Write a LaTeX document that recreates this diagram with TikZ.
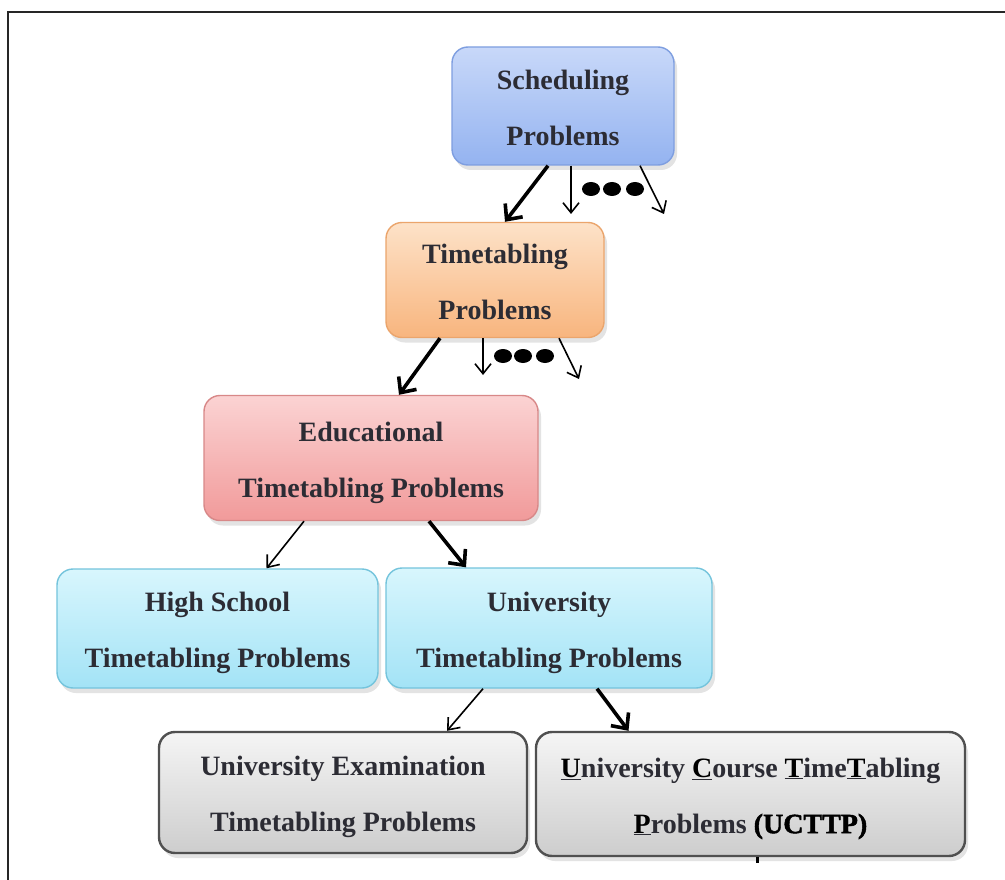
\documentclass[tikz,border=0pt]{standalone}
\usepackage{fontspec}
\setmainfont{Liberation Serif}
\newfontfamily\heavyfont[FakeBold=1.6]{Liberation Serif Bold}
\usetikzlibrary{arrows.meta,shadows,shapes.geometric}

\definecolor{blueTop}{HTML}{C8D8F9}
\definecolor{blueBot}{HTML}{94B3F0}
\definecolor{blueLine}{HTML}{7E9EE0}
\definecolor{orTop}{HTML}{FDE2C8}
\definecolor{orBot}{HTML}{F8B57E}
\definecolor{orLine}{HTML}{EBA56C}
\definecolor{redTop}{HTML}{FBD3D3}
\definecolor{redBot}{HTML}{F19A9A}
\definecolor{redLine}{HTML}{D88888}
\definecolor{cyTop}{HTML}{D8F6FD}
\definecolor{cyBot}{HTML}{A3E3F6}
\definecolor{cyLine}{HTML}{74C4DC}
\definecolor{gyTop}{HTML}{F5F5F5}
\definecolor{gyBot}{HTML}{CDCDCD}
\definecolor{gyLine}{HTML}{505050}
\definecolor{txt}{HTML}{2C2C34}

\newcommand{\ul}[1]{\underline{\textcolor{black}{#1}}}
% two centred lines, 56pt apart, set a little below the box centre
\newcommand{\twolines}[2]{\raisebox{-3pt}{\begin{tabular}{@{}c@{}}#1\\#2\end{tabular}}}

\tikzset{
  box/.style={rounded corners=16pt, inner sep=0pt,
    font=\fontsize{28}{56}\selectfont\bfseries, text=txt,
    drop shadow={opacity=0.22, shadow xshift=3pt, shadow yshift=-5pt}},
  bluebox/.style={box, draw=blueLine, line width=1.4pt, top color=blueTop, bottom color=blueBot},
  orbox/.style={box, draw=orLine, line width=1.4pt, top color=orTop, bottom color=orBot},
  redbox/.style={box, draw=redLine, line width=1.4pt, top color=redTop, bottom color=redBot},
  cybox/.style={box, draw=cyLine, line width=1.4pt, top color=cyTop, bottom color=cyBot},
  gybox/.style={box, draw=gyLine, line width=2.4pt, top color=gyTop, bottom color=gyBot},
  bold arrow/.style={line width=3.6pt, -{Straight Barb[length=12pt,width=22pt]}},
  thin arrow/.style={line width=1.6pt, -{Straight Barb[length=10pt,width=16pt]}},
  dot/.style={fill=black, ellipse, minimum width=18pt, minimum height=14pt, inner sep=0pt},
}

\begin{document}
\begin{tikzpicture}[x=1pt,y=-1pt]
\useasboundingbox (0,0) rectangle (1005,880);
\fill[white] (0,0) rectangle (1005,880);

% outer frame (top and left edges)
\draw[line width=2.6pt, black!85] (8,880) -- (8,12) -- (1005,12);

% boxes
\node[bluebox, minimum width=222pt, minimum height=118pt] (sched) at (563,106)
  {\twolines{Scheduling}{Problems}};
\node[orbox, minimum width=218pt, minimum height=115pt] (timet) at (495,280)
  {\twolines{Timetabling}{Problems}};
\node[redbox, minimum width=334pt, minimum height=125pt] (edu) at (371,458)
  {\twolines{Educational}{Timetabling Problems}};
\node[cybox, minimum width=321pt, minimum height=119pt] (high) at (217.5,628.5)
  {\twolines{High School}{Timetabling Problems}};
\node[cybox, minimum width=326pt, minimum height=120pt] (univ) at (549,628)
  {\twolines{University}{Timetabling Problems}};
\node[gybox, minimum width=368pt, minimum height=121pt] (exam) at (343,792.5)
  {\twolines{University Examination}{Timetabling Problems}};
\node[gybox, minimum width=429pt, minimum height=124pt] (ucttp) at (750.5,794)
  {\twolines{\ul{U}niversity \ul{C}ourse \ul{T}ime\ul{T}abling}{\ul{P}roblems {\heavyfont\textcolor{black}{(UCTTP)}}}};

% open-ended branches
\coordinate (sA) at (571,214);
\coordinate (sB) at (664,214);
\coordinate (tA) at (483,375);
\coordinate (tB) at (579,379);

% ellipsis dots
\node[dot] (sd1) at (591,189) {};
\node[dot] (sd2) at (612,189) {};
\node[dot] (sd3) at (635,189) {};
\node[dot] (td1) at (503,356) {};
\node[dot] (td2) at (523,356) {};
\node[dot] (td3) at (545,356) {};

% connectors
\draw[bold arrow] ([xshift=-15pt]sched.south) -- ([xshift=10pt]timet.north);
\draw[thin arrow] ([xshift=8pt]sched.south) -- (sA);
\draw[thin arrow] ([xshift=77pt]sched.south) -- (sB);

\draw[bold arrow] ([xshift=-55pt]timet.south) -- ([xshift=28pt]edu.north);
\draw[thin arrow] ([xshift=-12pt]timet.south) -- (tA);
\draw[thin arrow] ([xshift=64pt]timet.south) -- (tB);

\draw[thin arrow] ([xshift=-67pt]edu.south) -- ([xshift=49pt]high.north);
\draw[bold arrow] ([xshift=58pt]edu.south) -- ([xshift=-83pt]univ.north);

\draw[thin arrow] ([xshift=-66pt]univ.south) -- ([xshift=104pt]exam.north);
\draw[bold arrow] ([xshift=48pt]univ.south) -- ([xshift=-122pt]ucttp.north);

% small tick under the UCTTP box
\draw[line width=2.4pt] ([xshift=7pt]ucttp.south) -- ++(0,6);
\end{tikzpicture}
\end{document}
